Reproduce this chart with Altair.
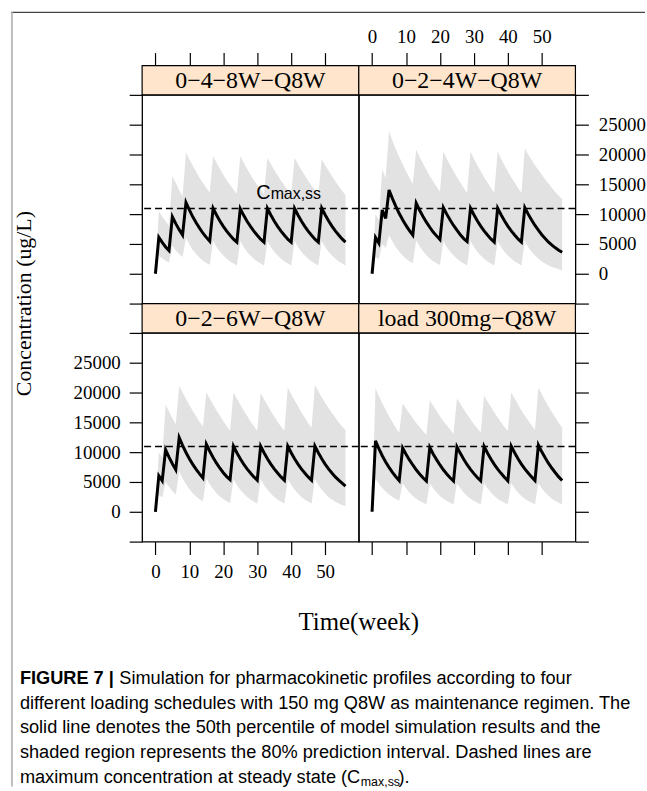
import altair as alt
import pandas as pd

weeks = list(range(57))
panel_labels = ["0−4−8W−Q8W", "0−2−4W−Q8W", "0−2−6W−Q8W", "load 300mg−Q8W"]
cmax_ss = 10950
x_ticks = [0, 10, 20, 30, 40, 50]
y_ticks = [-5000, 0, 5000, 10000, 15000, 20000, 25000, 30000]

med_a = [0, 6100, 5250, 4500, 3900, 9550, 8400, 7400, 6500,
         11950, 10700, 9550, 8550, 7650, 6800, 6100, 5450,
         10950, 9850, 8850, 7950, 7150, 6450, 5800, 5280,
         10900, 9800, 8800, 7950, 7150, 6450, 5800, 5280,
         10950, 9850, 8850, 7950, 7150, 6450, 5800, 5280,
         10950, 9850, 8850, 7950, 7150, 6450, 5800, 5300,
         11000, 9900, 8900, 8000, 7200, 6500, 5850, 5300]
hi_a = [0, 10500, 9600, 8800, 8100, 16400, 15200, 14000, 13000,
        20300, 19200, 18100, 17100, 16100, 15200, 14400, 13600,
        19700, 18600, 17600, 16600, 15700, 14900, 14100, 13400,
        19700, 18600, 17600, 16600, 15700, 14900, 14100, 13400,
        19400, 18400, 17400, 16500, 15600, 14800, 14000, 13300,
        19400, 18400, 17400, 16500, 15600, 14800, 14000, 13300,
        19200, 18200, 17300, 16400, 15500, 14700, 13900, 13200]
lo_a = [0, 3000, 2600, 2200, 1900, 4700, 3900, 3300, 2800,
        6000, 4900, 4000, 3300, 2700, 2200, 1800, 1500,
        5500, 4500, 3700, 3050, 2500, 2050, 1700, 1400,
        5500, 4500, 3700, 3050, 2500, 2050, 1700, 1400,
        5500, 4500, 3700, 3050, 2500, 2050, 1700, 1400,
        5500, 4500, 3700, 3050, 2500, 2050, 1700, 1400,
        5500, 4500, 3700, 3050, 2500, 2050, 1700, 1400]

med_b = [0, 6100, 5150, 10700, 9280, 14050, 12600, 11300, 10100, 9050, 8100, 7250, 6500,
         11830, 10650, 9600, 8650, 7800, 7000, 6350, 5720,
         11100, 10000, 9000, 8100, 7300, 6550, 5900, 5400,
         11000, 9900, 8900, 8000, 7200, 6500, 5850, 5300,
         11000, 9900, 8900, 8000, 7200, 6500, 5850, 5300,
         11100, 10000, 9000, 8100, 7300, 6550, 5900, 5300, 4800, 4350, 3950, 3600]
hi_b = [0, 10000, 9000, 17500, 16000, 23900, 22300, 20900, 19600, 18400, 17200, 16100, 15100,
        20800, 19600, 18500, 17400, 16400, 15500, 14600, 13800,
        20500, 19300, 18200, 17200, 16200, 15300, 14400, 13600,
        20500, 19300, 18200, 17200, 16200, 15300, 14400, 13600,
        20500, 19300, 18200, 17200, 16200, 15300, 14400, 13600,
        21000, 20000, 19100, 18200, 17400, 16600, 15800, 15100, 14400, 13700, 13100, 12500]
lo_b = [0, 2800, 2400, 5000, 4300, 6500, 5400, 4450, 3700, 3050, 2500, 2100, 1750,
        5600, 4600, 3800, 3100, 2550, 2100, 1750, 1450,
        5500, 4500, 3700, 3050, 2500, 2050, 1700, 1400,
        5500, 4500, 3700, 3050, 2500, 2050, 1700, 1400,
        5500, 4500, 3700, 3050, 2500, 2050, 1700, 1400,
        5500, 4500, 3700, 3050, 2500, 2050, 1700, 1400, 1150, 950, 750, 600]

med_c = [0, 6050, 5200, 10400, 9150, 8050, 7050, 12450, 11150, 9950, 8900, 7950, 7100, 6350, 5670,
         11330, 10150, 9100, 8150, 7300, 6550, 5900, 5390,
         11000, 9900, 8900, 8000, 7200, 6500, 5850, 5300,
         11000, 9900, 8900, 8000, 7200, 6500, 5850, 5300,
         11000, 9900, 8900, 8000, 7200, 6500, 5850, 5300,
         11000, 9900, 8900, 8000, 7200, 6500, 5850, 5300, 4800, 4300]
hi_c = [0, 10000, 9000, 18000, 16800, 15700, 14700, 21100, 20000, 18900, 17900, 16900, 16000, 15100, 14300,
        20000, 19000, 18000, 17000, 16100, 15200, 14400, 13600,
        20000, 19000, 18000, 17000, 16100, 15200, 14400, 13600,
        19900, 18900, 17900, 16900, 16000, 15100, 14300, 13600,
        20800, 19700, 18700, 17700, 16700, 15800, 14900, 14100,
        21200, 20200, 19200, 18300, 17400, 16600, 15800, 15000, 14300, 13700]
lo_c = [0, 2800, 2400, 5000, 4200, 3500, 2900, 6800, 5600, 4600, 3800, 3100, 2550, 2100, 1750,
        5600, 4600, 3800, 3100, 2550, 2100, 1750, 1450,
        5500, 4500, 3700, 3050, 2500, 2050, 1700, 1400,
        5500, 4500, 3700, 3050, 2500, 2050, 1700, 1400,
        5500, 4500, 3700, 3050, 2500, 2050, 1700, 1400,
        5500, 4500, 3700, 3050, 2500, 2050, 1700, 1400, 1150, 950]

med_d = [0, 11900, 10600, 9400, 8350, 7450, 6600, 5870, 5220,
         10700, 9650, 8700, 7850, 7050, 6350, 5700, 5150,
         10800, 9700, 8750, 7850, 7050, 6350, 5700, 5150,
         10900, 9800, 8800, 7900, 7100, 6400, 5750, 5200,
         10950, 9850, 8850, 7950, 7150, 6450, 5800, 5200,
         11000, 9900, 8900, 8000, 7200, 6500, 5850, 5250,
         11200, 10050, 9050, 8100, 7300, 6550, 5850, 5250]
hi_d = [0, 20700, 19400, 18200, 17100, 16000, 15000, 14100, 13200,
        18200, 17300, 16500, 15700, 14900, 14200, 13500, 12900,
        18700, 17800, 16900, 16000, 15200, 14500, 13800, 13100,
        19000, 18100, 17200, 16300, 15500, 14700, 14000, 13300,
        19500, 18500, 17600, 16700, 15800, 15000, 14200, 13500,
        20000, 19000, 18000, 17000, 16100, 15300, 14500, 13700,
        20800, 19700, 18600, 17600, 16700, 15800, 14900, 14100]
lo_d = [0, 5500, 4700, 4000, 3400, 2900, 2500, 2150, 1850,
        4800, 3950, 3250, 2650, 2200, 1800, 1500, 1250,
        4800, 3950, 3250, 2650, 2200, 1800, 1500, 1250,
        4800, 3950, 3250, 2650, 2200, 1800, 1500, 1250,
        4800, 3950, 3250, 2650, 2200, 1800, 1500, 1250,
        4800, 3950, 3250, 2650, 2200, 1800, 1500, 1250,
        4800, 3950, 3250, 2650, 2200, 1800, 1500, 1250]

meds = [med_a, med_b, med_c, med_d]
his = [hi_a, hi_b, hi_c, hi_d]
los = [lo_a, lo_b, lo_c, lo_d]

cmax_label_pos = (29.7, 12600)
y_title = "Concentration (ug/L)"
x_title = "Time(week)"
caption_bold = "FIGURE 7 |"
caption_lines = [
    "Simulation for pharmacokinetic profiles according to four",
    "different loading schedules with 150 mg Q8W as maintenance regimen. The",
    "solid line denotes the 50th percentile of model simulation results and the",
    "shaded region represents the 80% prediction interval. Dashed lines are",
    "maximum concentration at steady state (C",
]
caption_sub = "max,ss"
caption_end = ")."

W, H, STRIP = 218, 210, 29.5
SERIF = "Liberation Serif"
SANS = "Liberation Sans"
X_DOMAIN = [-3.92, 59.92]
Y_DOMAIN = [-5000, 30000]
CAP_X = -123
CAP_Y0 = 348
CAP_DY = 25
CAP_FS = 18.3


def one(**kw):
    return pd.DataFrame({k: [v] for k, v in kw.items()})


def txt(text, x, y, size, font=SERIF, weight="normal", align="left", angle=0, dx=0, dy=0):
    kw = dict(font=font, fontSize=size, fontWeight=weight, align=align,
              baseline="middle", color="black", dx=dx, dy=dy)
    if angle:
        kw["angle"] = angle
    return alt.Chart(one(s=text)).mark_text(**kw).encode(
        x=alt.value(x), y=alt.value(y), text="s:N")


def panel(i, xorient, xlabels, yorient, ylabels, with_cmax=False, extras=()):
    df = pd.DataFrame({"t": weeks, "med": meds[i], "lo": los[i], "hi": his[i]})
    xs = alt.Scale(domain=X_DOMAIN, nice=False, zero=False)
    ys = alt.Scale(domain=Y_DOMAIN, nice=False, zero=False)
    xaxis = alt.Axis(orient=xorient, values=x_ticks, labels=xlabels, title=None,
                     offset=STRIP if xorient == "top" else 0, grid=False, domain=False,
                     labelFlush=False, labelOverlap=False)
    yaxis = alt.Axis(orient=yorient, values=y_ticks, labels=ylabels, title=None,
                     format="d", labelOverlap=False, labelFlush=False, grid=False, domain=False,
                     labelExpr="datum.value < 0 || datum.value > 25000 ? '' : datum.label")

    def X(f):
        return alt.X(f, scale=xs, axis=xaxis, title=None)

    def Y(f):
        return alt.Y(f, scale=ys, axis=yaxis, title=None)

    band = alt.Chart(df).mark_area(color="#e2e2e2", opacity=1).encode(
        x=X("t:Q"), y=Y("lo:Q"), y2="hi:Q")
    rule = alt.Chart(one(c=cmax_ss)).mark_rule(
        color="black", strokeWidth=1.4, strokeDash=[7, 4]).encode(y=Y("c:Q"))
    line = alt.Chart(df).mark_line(color="black", strokeWidth=3).encode(
        x=X("t:Q"), y=Y("med:Q"))
    strip_rect = alt.Chart(one(k=0)).mark_rect(
        fill="#ffe5cc", stroke="black", strokeWidth=1.2).encode(
        x=alt.value(0), x2=alt.value(W), y=alt.value(-STRIP), y2=alt.value(0))
    strip_text = txt(panel_labels[i], W / 2, -STRIP / 2 + 1, 24, align="center")
    layers = [band, rule, line, strip_rect, strip_text]
    if with_cmax:
        cdf = one(t=cmax_label_pos[0], v=cmax_label_pos[1], c="C", s="max,ss")
        layers.append(alt.Chart(cdf).mark_text(
            font=SANS, fontSize=20, align="left", baseline="alphabetic", color="black"
        ).encode(x=X("t:Q"), y=Y("v:Q"), text="c:N"))
        layers.append(alt.Chart(cdf).mark_text(
            font=SANS, fontSize=16, align="left", baseline="alphabetic", color="black", dx=14.5
        ).encode(x=X("t:Q"), y=Y("v:Q"), text="s:N"))
    layers += list(extras)
    return alt.layer(*layers).properties(width=W, height=H)


frame_top = alt.Chart(one(k=0)).mark_rule(color="#444444", strokeWidth=1.5).encode(
    x=alt.value(-132), x2=alt.value(506), y=alt.value(-83))
frame_left = alt.Chart(one(k=0)).mark_rule(color="#bdbdbd", strokeWidth=2).encode(
    x=alt.value(-131), y=alt.value(-83), y2=alt.value(696))
ytitle = txt(y_title, -119, 210, 22, align="center", angle=270)
a_extras = [frame_top, frame_left, ytitle]

xtitle = txt(x_title, W, 291, 25, align="center")
cap = [txt(caption_bold, CAP_X, CAP_Y0, CAP_FS, font=SANS, weight="bold")]
cap.append(txt(caption_lines[0], CAP_X, CAP_Y0, CAP_FS, font=SANS, dx=100))
for k in range(1, 5):
    cap.append(txt(caption_lines[k], CAP_X, CAP_Y0 + k * CAP_DY, CAP_FS, font=SANS))
cap.append(txt(caption_sub, CAP_X, CAP_Y0 + 4 * CAP_DY, 12.5, font=SANS, dx=343, dy=4))
cap.append(txt(caption_end, CAP_X, CAP_Y0 + 4 * CAP_DY, CAP_FS, font=SANS, dx=381))
c_extras = [xtitle] + cap

pa = panel(0, "top", False, "left", False, with_cmax=True, extras=a_extras)
pb = panel(1, "top", True, "right", True)
pc = panel(2, "bottom", True, "left", True, extras=c_extras)
pd_ = panel(3, "bottom", False, "right", False)

chart = alt.concat(pa, pb, pc, pd_, columns=2, bounds="flush",
                   spacing={"row": STRIP, "column": 0}).properties(
    padding={"left": 9, "top": 8, "right": 0, "bottom": 0},
    background="white"
).configure_view(stroke="black", strokeWidth=1.3).configure_axis(
    labelFont=SERIF, labelFontSize=19, labelColor="black",
    tickColor="black", tickSize=13, tickWidth=1.2, domain=False, grid=False
).configure_axisTop(labelPadding=6).configure_axisBottom(labelPadding=8
).configure_axisLeft(labelPadding=9).configure_axisRight(labelPadding=10)

chart.save("out.html", embed_options={"renderer": "svg", "actions": False})
